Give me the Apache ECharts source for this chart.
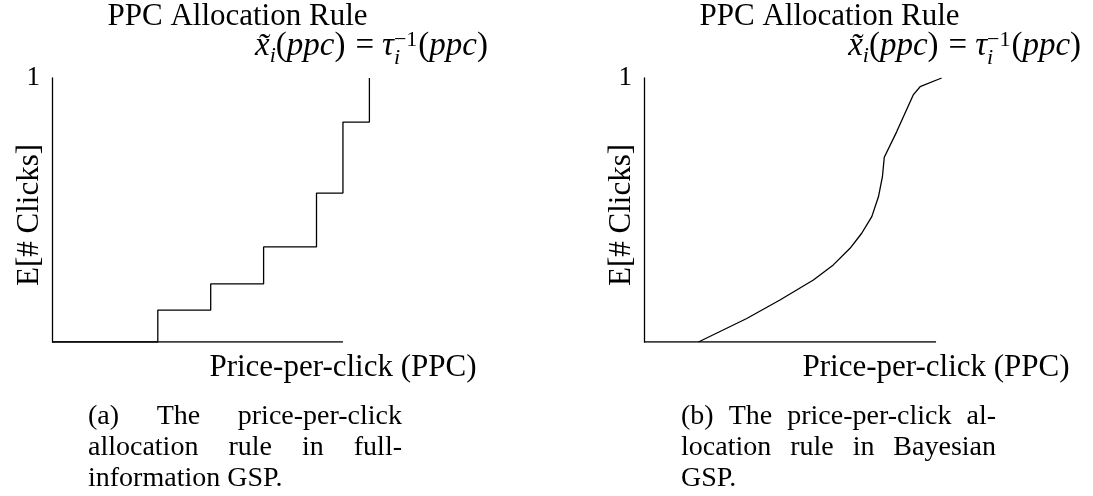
<!DOCTYPE html>
<html><head><meta charset="utf-8">
<script src="https://cdn.jsdelivr.net/npm/echarts@6/dist/echarts.min.js"></script>
<style>html,body{margin:0;padding:0;background:#fff}#c{width:1093px;height:496px}</style>
</head><body><div id="c"></div>
<script>
// ---------------- data ----------------
const stepPPC    = [0, 4, 6, 8, 10, 11, 12];
const stepClicks = [0, 0.121, 0.22, 0.36, 0.564, 0.833, 1];
const bayesPPC    = [2.05, 3.87, 5.12, 6.38, 7.13, 7.76, 8.20, 8.58, 8.83, 8.98, 9.05, 9.52, 10.14, 10.40, 11.21];
const bayesClicks = [0, 0.089, 0.159, 0.235, 0.292, 0.355, 0.412, 0.475, 0.550, 0.626, 0.700, 0.797, 0.936, 0.967, 1.0];
const axisLinePPC    = [0, 11];   // visible extent of the PPC axis line
const axisLineClicks = [0, 0];
const yTickValues = [0, 1];
const yTickLabels = ['', '1'];
const panelTitle = 'PPC Allocation Rule';
const xName = 'Price-per-click (PPC)';
const yName = 'E[# Clicks]';
const captionA = [['(a)', 'The', 'price-per-click'], ['allocation', 'rule', 'in', 'full-'], ['information', 'GSP.']];
const captionB = [['(b)', 'The', 'price-per-click', 'al-'], ['location', 'rule', 'in', 'Bayesian'], ['GSP.']];

// ---------------- layout ----------------
const FONT = '"Liberation Serif", "Times New Roman", serif';
const INK = '#000';
const XMAX = 12;
const panels = [
  { left: 52, unit: 26.45, top: 78, height: 264 },
  { left: 644, unit: 26.55, top: 78, height: 264 }
];
const grids = panels.map(p => ({ left: p.left, top: p.top, width: p.unit * XMAX, height: p.height,
  containLabel: false, outerBoundsMode: 'none' }));
const cv = document.createElement('canvas').getContext('2d');
function tw(t, f) { cv.font = f; return cv.measureText(t).width; }
const MID = 0.25; // offset of the text's middle line above its baseline (em)

function txt(t, x, baseline, size, italic, align) {
  const f = (italic ? 'italic ' : '') + size + 'px ' + FONT;
  return { type: 'text', x: x, y: baseline - MID * size, silent: true,
    style: { text: t, font: f, fill: INK, align: align || 'left', textAlign: align || 'left',
             verticalAlign: 'middle', textVerticalAlign: 'middle' } };
}

function formula(xRight, baseline) {
  const fs = 33, ss = 22;
  const pieces = [
    { t: 'x\u0303', s: fs, it: true, dy: 0 },
    { t: 'i', s: ss, it: true, dy: 7 },
    { t: '(', s: fs }, { t: 'ppc', s: fs, it: true }, { t: ')', s: fs, pr: 2 },
    { t: '=', s: fs, pl: 8, pr: 8 },
    { t: '\u03C4', s: fs, it: true },
    { stack: [{ t: 'i', s: ss, it: true, dy: 9 }, { t: '\u22121', s: ss, dy: -9 }] },
    { t: '(', s: fs, pl: 1 }, { t: 'ppc', s: fs, it: true }, { t: ')', s: fs }
  ];
  const fnt = p => (p.it ? 'italic ' : '') + p.s + 'px ' + FONT;
  let total = 0;
  pieces.forEach(p => {
    if (p.stack) p.w = Math.max(...p.stack.map(q => tw(q.t, fnt(q))));
    else p.w = tw(p.t, fnt(p)) + (p.pl || 0) + (p.pr || 0);
    total += p.w;
  });
  let x = xRight - total;
  const out = [];
  pieces.forEach(p => {
    if (p.stack) p.stack.forEach(q => out.push(txt(q.t, x, baseline + q.dy, q.s, q.it)));
    else out.push(txt(p.t, x + (p.pl || 0), baseline + (p.dy || 0), p.s, p.it));
    x += p.w;
  });
  return out;
}

function caption(lines, x0, x1, firstBaseline, lead, size) {
  const out = [];
  const f = size + 'px ' + FONT;
  lines.forEach((words, li) => {
    const b = firstBaseline + li * lead;
    const ws = words.map(w => tw(w, f));
    const sum = ws.reduce((a, c) => a + c, 0);
    const last = li === lines.length - 1;
    const gap = last || words.length < 2 ? tw(' ', f) : (x1 - x0 - sum) / (words.length - 1);
    let x = x0;
    words.forEach((w, i) => { out.push(txt(w, x, b, size, false)); x += ws[i] + gap; });
  });
  return out;
}

const graphics = [];
panels.forEach(p => {
  const axisEndX = p.left + axisLinePPC[1] * p.unit;
  graphics.push(txt(panelTitle, p.left + 185.5, 25, 31, false, 'center'));
  graphics.push(...formula(axisEndX + 145, 55));
  graphics.push(txt(xName, axisEndX, 376, 31, false, 'center'));
  const yn = txt(yName, 0, 0, 31, false, 'center');
  yn.x = p.left - 22; yn.y = 215; yn.rotation = Math.PI / 2;
  graphics.push(yn);
});
graphics.push(...caption(captionA, 88, 402, 424, 31, 28));
graphics.push(...caption(captionB, 681, 996, 424, 31, 28));

function xAxisCfg(gi) {
  return { type: 'value', gridIndex: gi, min: 0, max: XMAX,
    axisLine: { show: false }, axisTick: { show: false }, axisLabel: { show: false }, splitLine: { show: false } };
}
function yAxisCfg(gi) {
  return { type: 'value', gridIndex: gi, min: yTickValues[0], max: yTickValues[yTickValues.length - 1], interval: 1,
    axisLine: { show: true, lineStyle: { color: INK, width: 1.3 } },
    axisTick: { show: false }, splitLine: { show: false },
    axisLabel: { margin: 12, fontFamily: FONT, fontSize: 27, color: INK,
      formatter: v => yTickLabels[yTickValues.indexOf(v)] || '' } };
}
function baseLine(gi) {
  return { type: 'line', xAxisIndex: gi, yAxisIndex: gi, symbol: 'none', silent: true,
    lineStyle: { color: INK, width: 1.3 },
    data: axisLinePPC.map((x, i) => [x, axisLineClicks[i]]) };
}

const chart = echarts.init(document.getElementById('c'), null, { renderer: 'canvas' });
chart.setOption({
  animation: false,
  backgroundColor: '#fff',
  grid: grids,
  xAxis: [xAxisCfg(0), xAxisCfg(1)],
  yAxis: [yAxisCfg(0), yAxisCfg(1)],
  graphic: graphics,
  series: [
    baseLine(0), baseLine(1),
    { type: 'line', xAxisIndex: 0, yAxisIndex: 0, step: 'end', symbol: 'none',
      lineStyle: { color: INK, width: 1.3 },
      data: stepPPC.map((x, i) => [x, stepClicks[i]]) },
    { type: 'line', xAxisIndex: 1, yAxisIndex: 1, symbol: 'none', smooth: false,
      lineStyle: { color: INK, width: 1.3 },
      data: bayesPPC.map((x, i) => [x, bayesClicks[i]]) }
  ]
});
</script></body></html>
